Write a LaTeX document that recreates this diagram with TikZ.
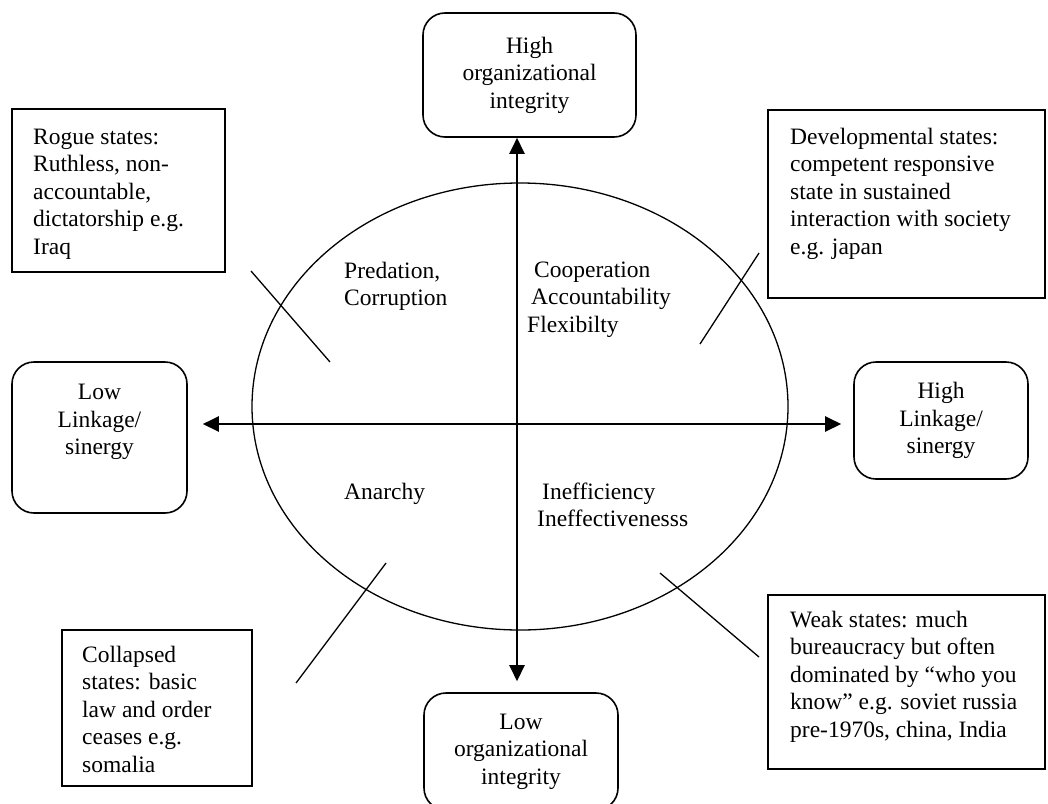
\documentclass[tikz,border=0pt]{standalone}
\usepackage{fontspec}
\setmainfont{Liberation Serif}
\usetikzlibrary{arrows.meta,shapes.geometric}
\begin{document}
\begin{tikzpicture}[x=1pt,y=-1pt,
  txt/.style={font=\fontsize{23.5}{27.5}\selectfont, align=left, inner sep=0pt, anchor=north west},
  rbox/.style={draw, line width=1.6pt, rounded corners=22pt, align=center, inner sep=0pt, font=\fontsize{23.5}{27.5}\selectfont},
  sbox/.style={draw, line width=1.6pt, inner sep=0pt},
  arr/.style={line width=2.4pt, -{Triangle[length=16pt,width=15pt]}},
  crossln/.style={line width=1.3pt}]
\useasboundingbox (0,0) rectangle (1048,803);

% ellipse
\node[draw, ellipse, line width=1.3pt, minimum width=536pt, minimum height=447pt, inner sep=0pt] (ell) at (520,406.5) {};

% rounded boxes
\node[rbox, minimum width=213pt, minimum height=124pt] (top) at (529.5,75) {High\\organizational\\integrity};
\node[rbox, minimum width=175pt, minimum height=151pt] (lft) at (99.5,437.5) {Low\\Linkage/\\sinergy\\\strut};
\node[rbox, minimum width=174pt, minimum height=117pt] (rgt) at (941,420.5) {High\\Linkage/\\sinergy};
\node[rbox, minimum width=194pt, minimum height=117pt] (bot) at (521,751.5) {Low\\organizational\\integrity};

% square boxes
\node[sbox, minimum width=213pt, minimum height=163pt] (rogue) at (118.5,190.5) {};
\node[sbox, minimum width=277pt, minimum height=188pt] (dev) at (906.5,204) {};
\node[sbox, minimum width=190pt, minimum height=156pt] (coll) at (157,708) {};
\node[sbox, minimum width=277pt, minimum height=174pt] (weak) at (906.5,682) {};

% box texts
\node[txt] (roguet) at (33,124.7) {\strut Rogue states:\\Ruthless, non-\\accountable,\\dictatorship e.g.\\Iraq};
\node[txt] (devt) at (790,124.7) {\strut Developmental states:\\competent responsive\\state in sustained\\interaction with society\\e.g. japan};
\node[txt] (weakt) at (790,607.7) {\strut Weak states: much\\bureaucracy but often\\dominated by “who you\\know” e.g. soviet russia\\pre-1970s, china, India};
\node[txt] (collt) at (82,642.7) {\strut Collapsed\\states: basic\\law and order\\ceases e.g.\\somalia};

% quadrant texts
\node[txt] (pred) at (344,258.7) {\strut Predation,\\Corruption};
\node[txt] (coop) at (527,257.7) {\strut\hspace*{7pt}Cooperation\\\hspace*{4pt}Accountability\\Flexibilty};
\node[txt] (anar) at (344,479.7) {\strut Anarchy};
\node[txt] (ineff) at (537,479.7) {\strut\hspace*{5pt}Inefficiency\\Ineffectivenesss};

% axes
\coordinate (o) at (517,424);
\draw[arr] (o) -- (o |- top.south);
\draw[arr] (o) -- ([yshift=11pt]o |- bot.north);
\draw[arr] (o) -- ([xshift=15pt]lft.east |- o);
\draw[arr] (o) -- ([xshift=-12pt]rgt.west |- o);

% crossing strokes
\coordinate (r1) at (251,271); \coordinate (r2) at (330,362);
\coordinate (d1) at (759,253); \coordinate (d2) at (700,344);
\coordinate (c1) at (386,563); \coordinate (c2) at (296,683);
\coordinate (w1) at (660,573); \coordinate (w2) at (759,657);
\draw[crossln] (r1) -- (r2);
\draw[crossln] (d1) -- (d2);
\draw[crossln] (c1) -- (c2);
\draw[crossln] (w1) -- (w2);
\end{tikzpicture}
\end{document}
